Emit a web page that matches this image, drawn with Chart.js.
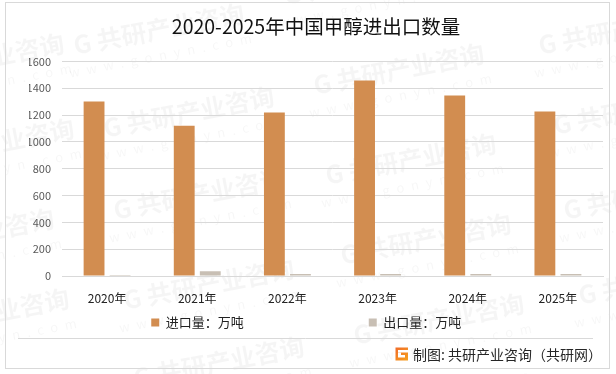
<!DOCTYPE html>
<html>
<head>
<meta charset="utf-8">
<style>
  html, body { margin: 0; padding: 0; background: #fff; }
  #wrap { width: 616px; height: 374px; }
</style>
<script src="https://cdn.jsdelivr.net/npm/chart.js@4/dist/chart.umd.min.js"></script>
</head>
<body>
<div id="wrap"><canvas id="myChart" width="616" height="374"></canvas></div>
<script>
const FONT = '"Noto Sans CJK SC", "Noto Sans", sans-serif';

const years = ['2020年', '2021年', '2022年', '2023年', '2024年', '2025年'];
const importVolume = [1301, 1121, 1219, 1458, 1346, 1226];
const exportVolume = [8, 36, 14, 15, 14, 14];
const titleText = '2020-2025年中国甲醇进出口数量';
const sourceText = '制图: 共研产业咨询（共研网）';

// centres of the faint company stamps behind the chart
const stampSpots = [
  [370, -15], [160, 35], [400, 75], [625, 35], [-20, 65], [190, 118], [412, 165], [640, 115],
  [-10, 150], [200, 200], [427, 245], [650, 200], [-30, 240], [210, 290], [440, 325], [665, 285],
  [-15, 320], [220, 368], [455, 405]
];

// watermark, frame, footer line and source credit
const backdrop = {
  id: 'backdrop',
  beforeDraw(chart) {
    const c = chart.ctx;
    c.save();
    c.fillStyle = '#fff';
    c.fillRect(0, 0, 616, 374);
    stampSpots.forEach(([x, y]) => {
      c.save();
      c.translate(x, y);
      c.rotate(-0.19);
      c.textAlign = 'center';
      c.textBaseline = 'middle';
      c.fillStyle = 'rgba(0,0,0,0.04)';
      c.font = 'bold 25px ' + FONT;
      c.fillText('G 共研产业咨询', 0, -6);
      c.fillStyle = 'rgba(0,0,0,0.035)';
      c.font = '13px ' + FONT;
      c.letterSpacing = '7px';
      c.fillText('www.gonyn.com', 0, 20);
      c.restore();
    });
    c.strokeStyle = '#d9d9d9';
    c.lineWidth = 1;
    c.strokeRect(5.5, 2.5, 604, 366);
    c.beginPath();
    c.moveTo(18, 338.5);
    c.lineTo(593, 338.5);
    c.stroke();
    c.restore();
  },
  afterDraw(chart) {
    const c = chart.ctx;
    c.save();
    // little orange G logo
    const g = c.createLinearGradient(395, 347, 408, 361);
    g.addColorStop(0, '#f0692a');
    g.addColorStop(1, '#f7a21d');
    c.fillStyle = g;
    c.fillRect(395.5, 347.5, 12.5, 13);
    c.fillStyle = '#fff';
    c.fillRect(398, 350, 10, 2.5);
    c.fillRect(398, 352.5, 3, 5);
    c.fillRect(401, 355, 4, 2.5);
    c.fillStyle = '#262626';
    c.font = '14px ' + FONT;
    c.textBaseline = 'middle';
    c.textAlign = 'left';
    c.fillText(sourceText, 413, 355);
    c.restore();
  }
};

const myChart = new Chart(document.getElementById('myChart').getContext('2d'), {
  type: 'bar',
  plugins: [backdrop],
  data: {
    labels: years,
    datasets: [
      {
        label: '进口量：万吨',
        data: importVolume,
        backgroundColor: '#d28d50',
        categoryPercentage: 0.578,
        barPercentage: 0.8
      },
      {
        label: '出口量：万吨',
        data: exportVolume,
        backgroundColor: '#c8bfb4',
        categoryPercentage: 0.578,
        barPercentage: 0.8
      }
    ]
  },
  options: {
    responsive: false,
    animation: false,
    layout: { padding: { left: 29, right: 13, top: 0, bottom: 35 } },
    plugins: {
      title: {
        display: true,
        text: titleText,
        color: '#111',
        font: { family: FONT, size: 19.5, weight: 'normal' },
        padding: { top: 15, bottom: 23 }
      },
      legend: {
        position: 'bottom',
        labels: {
          boxWidth: 8,
          boxHeight: 8,
          padding: 8,
          color: '#222',
          font: { family: FONT, size: 13 },
          // the two entries sit far apart in the original, so pad with wide spaces
          generateLabels(chart) {
            const items = Chart.defaults.plugins.legend.labels.generateLabels(chart);
            items[0].text += '\u3000'.repeat(9);
            items[1].text += '\u3000\u2002';
            return items;
          }
        }
      },
      tooltip: { enabled: false }
    },
    scales: {
      x: {
        grid: { display: false, drawTicks: false },
        border: { color: '#d9d9d9' },
        ticks: { color: '#222', font: { family: FONT, size: 12 }, padding: 15 },
        afterFit(scale) { scale.height = 32; }
      },
      y: {
        min: 0,
        max: 1600,
        grid: { color: '#d9d9d9', drawTicks: false },
        border: { display: false },
        ticks: {
          stepSize: 200,
          color: '#595959',
          font: { family: FONT, size: 11 },
          padding: 11,
          callback: (v) => String(v)
        },
        afterFit(scale) { scale.width = 33; }
      }
    }
  }
});
</script>
</body>
</html>
